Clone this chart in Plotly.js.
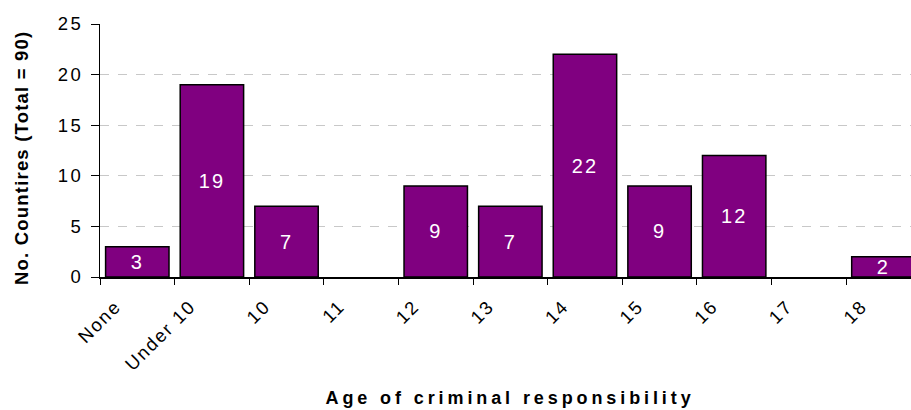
<!DOCTYPE html>
<html>
<head>
<meta charset="utf-8">
<script src="https://cdn.plot.ly/plotly-3.0.1.min.js"></script>
<style>
html,body{margin:0;padding:0;background:#fff;}
#chart{width:911px;height:410px;}
g.ytick text{letter-spacing:2.5px;}
g.x2tick text{letter-spacing:1.8px;}
text.bartext{letter-spacing:2px;}
</style>
</head>
<body>
<div id="chart"></div>
<script>
const categories = ["None", "Under 10", "10", "11", "12", "13", "14", "15", "16", "17", "18"];
const counts = [3, 19, 7, null, 9, 7, 22, 9, 12, null, 2];
const yTicks = [0, 5, 10, 15, 20, 25];
const xTitle = "Age of criminal responsibility";
const yTitle = "No. Countires (Total = 90)";

const idx = categories.map((c, i) => i);
const boundaries = categories.map((c, i) => i - 0.5);
const labelPos = categories.map((c, i) => i - 0.5 + 0.21);

const FONT = "Liberation Sans, Arial, sans-serif";

const trace = {
  type: "bar",
  x: idx,
  y: counts,
  width: 0.85,
  marker: {color: "#800080", line: {color: "#000000", width: 1.5}},
  text: counts.map(v => v === null ? "" : String(v)),
  textposition: "inside",
  insidetextanchor: "middle",
  textangle: 0,
  constraintext: "none",
  textfont: {family: FONT, size: 20, color: "#ffffff"},
  hoverinfo: "skip",
  cliponaxis: true
};

const tickFont = {family: FONT, size: 18.5, color: "#000000"};

const layout = {
  width: 911, height: 410,
  margin: {l: 100, r: 0, t: 24, b: 133},
  paper_bgcolor: "#ffffff", plot_bgcolor: "#ffffff",
  showlegend: false,
  uniformtext: {minsize: 20, mode: "show"},
  xaxis: {
    type: "linear", range: [-0.5, 10.37], fixedrange: true,
    tickmode: "array", tickvals: boundaries, ticktext: boundaries.map(() => ""),
    showticklabels: false,
    ticks: "outside", ticklen: 6, tickwidth: 1, tickcolor: "#000000",
    showline: true, linecolor: "#000000", linewidth: 1.5,
    showgrid: false, zeroline: false
  },
  xaxis2: {
    type: "linear", range: [-0.5, 10.37], overlaying: "x", anchor: "y", side: "bottom",
    tickmode: "array", tickvals: labelPos, ticktext: categories,
    tickangle: -45, ticks: "", tickfont: tickFont, ticklabelstandoff: 14,
    showline: false, showgrid: false, zeroline: false
  },
  yaxis: {
    range: [0, 25], tickmode: "array", tickvals: yTicks,
    ticks: "outside", ticklen: 8, tickwidth: 1, tickcolor: "#000000",
    tickfont: tickFont, ticklabelstandoff: 4,
    showline: true, linecolor: "#000000", linewidth: 1,
    showgrid: true, gridcolor: "#c8c8c8", gridwidth: 1, griddash: "dash",
    zeroline: false
  },
  annotations: [
    {text: xTitle, xref: "paper", yref: "paper", x: 0.505, y: -0.478,
     xanchor: "center", yanchor: "middle", showarrow: false,
     font: {family: FONT, size: 18, weight: 700, color: "#000000"}},
    {text: yTitle, xref: "paper", yref: "paper", x: -0.097, y: 0.47, textangle: -90,
     xanchor: "center", yanchor: "middle", showarrow: false,
     font: {family: FONT, size: 18.5, weight: 700, color: "#000000"}}
  ]
};

const dummy = {type: "scatter", x: [0], y: [null], xaxis: "x2", yaxis: "y", hoverinfo: "skip", showlegend: false};

Plotly.newPlot("chart", [trace, dummy], layout, {displayModeBar: false, staticPlot: true}).then(() => {
  const texts = document.querySelectorAll("g.annotation text");
  if (texts[0]) texts[0].style.letterSpacing = "3.9px";
  if (texts[1]) texts[1].style.letterSpacing = "1.2px";
});
</script>
</body>
</html>
